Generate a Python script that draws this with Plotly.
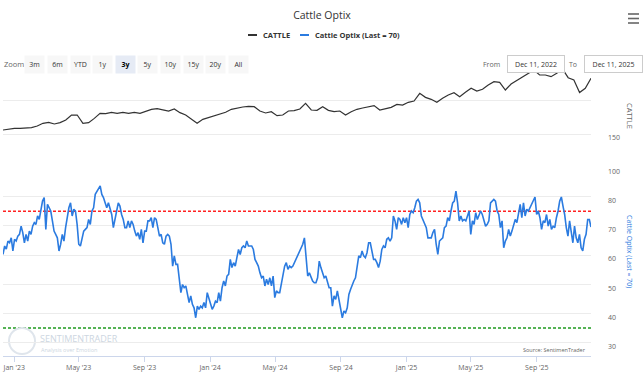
import plotly.graph_objects as go
import pandas as pd

# ---------------- data ----------------
title_text = "Cattle Optix"
cattle_name = "CATTLE"
optix_name = "Cattle Optix (Last = 70)"
start_date = "2022-12-11"
end_date = "2025-12-11"

cattle_values = [
    155.9, 157.4, 158.3, 158.3, 158.3, 159.3, 161.8, 165.7, 167.2, 164.7,
    166.7, 170.6, 177.9, 177.9, 165.7, 166.7, 173.0, 180.4, 179.9, 181.9,
    180.4, 181.9, 180.4, 181.9, 180.4, 182.8, 186.3, 187.3, 185.3, 183.8,
    186.8, 181.4, 177.9, 172.1, 165.7, 171.6, 174.0, 176.5, 178.9, 181.9,
    186.3, 188.2, 189.7, 190.7, 190.2, 183.8, 180.9, 182.8, 177.0, 177.9,
    183.8, 184.3, 186.8, 195.1, 185.3, 184.8, 190.2, 184.8, 182.8, 183.8,
    177.9, 182.8, 186.3, 188.2, 190.2, 191.7, 185.3, 186.8, 189.2, 193.6,
    192.6, 196.6, 198.5, 209.8, 203.9, 201.0, 196.6, 202.5, 207.4, 210.8,
    204.9, 211.3, 217.2, 213.2, 215.7, 222.1, 227.0, 226.0, 214.7, 223.5,
    228.4, 233.3, 238.2, 244.1, 236.8, 236.8, 234.3, 239.2, 245.6, 232.8,
    229.4, 211.0, 217.2, 231.9,
]

optix_values = [
    60.2, 63.1, 62.0, 64.8, 64.2, 65.9, 61.4, 65.4, 64.8, 66.5,
    67.1, 69.9, 67.7, 64.2, 67.1, 64.8, 68.2, 67.1, 69.9, 71.1,
    70.5, 73.4, 72.2, 75.1, 78.5, 79.7, 68.8, 77.4, 76.2, 75.1,
    71.7, 68.2, 67.1, 65.9, 61.4, 63.7, 67.1, 64.8, 69.4, 72.8,
    76.2, 77.9, 73.4, 75.7, 75.1, 70.5, 63.7, 63.1, 65.9, 68.2,
    68.8, 69.4, 72.2, 70.5, 75.1, 76.2, 80.8, 81.9, 82.8, 83.7,
    80.8, 79.7, 77.9, 76.2, 77.9, 75.7, 73.9, 69.4, 72.8, 75.1,
    77.9, 76.8, 73.9, 72.2, 69.4, 69.4, 71.7, 69.4, 71.7, 70.5,
    68.2, 66.5, 67.7, 65.4, 68.8, 64.2, 68.2, 68.2, 71.7, 71.7,
    72.8, 69.4, 72.8, 72.2, 69.4, 66.5, 67.1, 64.2, 63.7, 66.5,
    67.1, 66.5, 63.7, 56.2, 59.7, 56.8, 56.8, 52.8, 47.1, 49.9,
    48.8, 49.4, 46.5, 43.7, 46.0, 43.1, 41.9, 38.5, 42.5, 41.4,
    42.5, 41.9, 43.7, 41.9, 47.1, 45.4, 43.7, 41.4, 42.5, 44.2,
    43.7, 47.1, 44.2, 48.8, 51.1, 49.4, 52.8, 53.4, 58.5, 55.7,
    57.4, 56.2, 59.1, 61.9, 60.2, 62.5, 63.1, 62.5, 64.8, 63.1,
    63.1, 63.1, 61.9, 58.5, 57.4, 56.2, 53.9, 52.2, 52.8, 49.4,
    51.7, 49.9, 52.2, 49.4, 52.8, 45.4, 47.7, 47.1, 47.1, 49.9,
    52.8, 56.2, 57.4, 55.1, 56.2, 55.7, 56.2, 57.4, 58.5,
    60.2, 60.8, 62.5, 63.7, 65.9, 59.1, 52.8, 53.9, 52.2, 51.1,
    50.5, 50.5, 52.2, 57.9, 55.7, 53.9, 52.2, 52.8, 51.1, 48.8,
    48.8, 42.5, 46.0, 44.8, 47.7, 44.8, 41.4, 38.5, 40.8, 40.2,
    41.9, 46.5, 48.2, 50.0, 51.1, 52.2, 56.8, 59.7, 59.1, 61.4,
    59.7, 59.1, 60.8, 64.2, 64.2, 61.4, 58.5, 58.5, 57.4, 55.7,
    57.9, 61.9, 63.1, 62.5, 65.4, 65.9, 64.8, 65.9, 73.4, 71.7,
    68.8, 72.8, 72.2, 70.5, 72.8, 71.1, 72.8, 69.4, 73.9, 75.1,
    74.5, 76.2, 78.5, 79.1, 77.9, 73.4, 72.2, 70.5, 69.4, 65.9,
    65.9, 65.9, 67.7, 68.8, 63.7, 60.2, 64.8, 65.4, 65.9, 69.4,
    69.9, 72.8, 71.7, 75.1, 77.9, 78.5, 81.9, 77.9, 71.7, 73.4,
    71.7, 72.2, 71.7, 73.4, 75.1, 67.1, 71.7, 70.5, 74.5, 72.2,
    73.4, 75.1, 73.9, 71.7, 69.9, 70.5, 71.7, 77.9, 78.7, 79.1,
    78.5, 75.1, 73.9, 69.4, 71.7, 62.5, 64.8, 65.9, 68.8, 66.5,
    68.2, 70.5, 72.2, 71.1, 73.9, 77.4, 72.8, 77.9, 73.4, 75.7,
    75.1, 76.2, 77.4, 78.5, 79.9, 73.9, 75.1, 72.8, 68.8, 71.7,
    71.1, 73.9, 69.9, 72.2, 68.8, 69.9, 69.4, 72.8, 75.1, 78.5,
    79.9, 76.8, 73.9, 69.4, 66.5, 71.7, 67.1, 64.2, 69.9, 65.9,
    64.2, 67.1, 62.5, 61.4, 65.4, 67.1, 72.2, 72.2, 69.6,
]

upper_level = 75
lower_level = 35

cattle_tickvals = [100, 150, 200]
cattle_ticktext = ["100", "150", ""]
optix_tickvals = [30, 40, 50, 60, 70, 80]

x_tick_dates = ["2023-01-01", "2023-05-01", "2023-09-01", "2024-01-01", "2024-05-01",
                "2024-09-01", "2025-01-01", "2025-05-01", "2025-09-01"]
x_tick_labels = ["Jan '23", "May '23", "Sep '23", "Jan '24", "May '24",
                 "Sep '24", "Jan '25", "May '25", "Sep '25"]

zoom_buttons = ["3m", "6m", "YTD", "1y", "3y", "5y", "10y", "15y", "20y", "All"]
selected_button = "3y"
from_text = "Dec 11, 2022"
to_text = "Dec 11, 2025"
source_text = "Source: SentimenTrader"

cattle_dates = pd.date_range(start_date, end_date, periods=len(cattle_values))
optix_dates = pd.date_range(start_date, end_date, periods=len(optix_values))

# ---------------- layout geometry ----------------
W, H = 644, 374
ML, MR, MT, MB = 3, 53, 68, 18
PW, PH = W - ML - MR, H - MT - MB


def fx(px):
    return (px - ML) / PW


def fy(py):
    return (H - MB - py) / PH


FONT = "Open Sans"
BLUE = "#2b7be0"
DARK = "#333333"
GRAY = "#666666"

fig = go.Figure()
fig.add_trace(go.Scatter(x=cattle_dates, y=cattle_values, name=cattle_name, mode="lines",
                         line=dict(color=DARK, width=1.2), xaxis="x", yaxis="y"))
fig.add_trace(go.Scatter(x=optix_dates, y=optix_values, name=optix_name, mode="lines",
                         line=dict(color=BLUE, width=1.6), xaxis="x", yaxis="y2"))

shapes = []
# reference levels
shapes.append(dict(type="line", xref="paper", x0=0, x1=1, yref="y2", y0=upper_level, y1=upper_level,
                   line=dict(color="#ff2222", width=1.4, dash="3px,2px"), layer="below"))
shapes.append(dict(type="line", xref="paper", x0=0, x1=1, yref="y2", y0=lower_level, y1=lower_level,
                   line=dict(color="#1f9a1f", width=1.4, dash="3px,2px"), layer="below"))
# legend symbols
shapes.append(dict(type="line", xref="paper", yref="paper", x0=fx(248), x1=fx(257), y0=fy(35), y1=fy(35),
                   line=dict(color=DARK, width=2)))
shapes.append(dict(type="line", xref="paper", yref="paper", x0=fx(300), x1=fx(309), y0=fy(35), y1=fy(35),
                   line=dict(color=BLUE, width=2)))
# hamburger menu
for yy in (14, 18.5, 23):
    shapes.append(dict(type="line", xref="paper", yref="paper", x0=fx(628), x1=fx(639), y0=fy(yy), y1=fy(yy),
                       line=dict(color=GRAY, width=1.6)))
# watermark circle
shapes.append(dict(type="circle", xref="paper", yref="paper", x0=fx(9), x1=fx(35), y0=fy(328), y1=fy(354),
                   line=dict(color="#dfe5ec", width=2), layer="below"))

ann = []
# legend labels
ann.append(dict(text="<b>" + cattle_name + "</b>", x=fx(261), y=fy(35), xanchor="left", yanchor="middle",
                font=dict(size=7.5, color=DARK, family=FONT)))
ann.append(dict(text="<b>" + optix_name + "</b>", x=fx(313), y=fy(35), xanchor="left", yanchor="middle",
                font=dict(size=7.5, color=DARK, family=FONT)))
# zoom buttons
ann.append(dict(text="Zoom", x=fx(2), y=fy(64), xanchor="left", yanchor="middle",
                font=dict(size=7.5, color=GRAY, family=FONT)))
for i, b in enumerate(zoom_buttons):
    cx = 34.8 + 22.6 * i
    sel = b == selected_button
    ann.append(dict(text=("<b>" + b + "</b>") if sel else b, x=fx(cx), y=fy(64), xanchor="center",
                    yanchor="middle", width=19, height=17, borderpad=0,
                    bgcolor="#e6ebf5" if sel else "#f7f7f7",
                    font=dict(size=7, color="#000000" if sel else DARK, family=FONT)))
# from / to
ann.append(dict(text="From", x=fx(502), y=fy(64), xanchor="right", yanchor="middle",
                font=dict(size=7, color=GRAY, family=FONT)))
ann.append(dict(text=from_text, x=fx(536), y=fy(64), xanchor="center", yanchor="middle", width=56, height=16,
                borderpad=0, bgcolor="white", bordercolor="#cccccc", borderwidth=1,
                font=dict(size=7, color=DARK, family=FONT)))
ann.append(dict(text="To", x=fx(579), y=fy(64), xanchor="right", yanchor="middle",
                font=dict(size=7, color=GRAY, family=FONT)))
ann.append(dict(text=to_text, x=fx(613.5), y=fy(64), xanchor="center", yanchor="middle", width=57, height=16,
                borderpad=0, bgcolor="white", bordercolor="#cccccc", borderwidth=1,
                font=dict(size=7, color=DARK, family=FONT)))
# axis titles (rotated like the original)
ann.append(dict(text=cattle_name, x=fx(630), y=fy(116), xanchor="center", yanchor="middle", textangle=90,
                font=dict(size=7.5, color=GRAY, family=FONT)))
ann.append(dict(text=optix_name, x=fx(630), y=fy(251), xanchor="center", yanchor="middle", textangle=90,
                font=dict(size=7, color=BLUE, family=FONT)))
# watermark text
ann.append(dict(text="SENTIMENTRADER", x=fx(38), y=fy(338.5), xanchor="left", yanchor="middle",
                font=dict(size=9, color="#cdd6e1", family=FONT)))
ann.append(dict(text="Analysis over Emotion", x=fx(39), y=fy(349.5), xanchor="left", yanchor="middle",
                font=dict(size=5.5, color="#cdd6e1", family=FONT)))
# source
ann.append(dict(text=source_text, x=fx(588), y=fy(350), xanchor="right", yanchor="middle",
                font=dict(size=5.5, color=GRAY, family=FONT)))
for a in ann:
    a.setdefault("xref", "paper")
    a.setdefault("yref", "paper")
    a.setdefault("showarrow", False)

# axis ranges that place the panes like the original
cattle_range = [100, 247.06]
optix_range = [25.39, 87.44]

fig.update_layout(
    width=W, height=H,
    margin=dict(l=ML, r=MR, t=MT, b=MB, pad=0),
    paper_bgcolor="white", plot_bgcolor="white",
    showlegend=False,
    title=dict(text=title_text, x=0.5, xref="container", xanchor="center", y=1 - 15.5 / H, yref="container",
               yanchor="middle", font=dict(size=10.5, color=DARK, family=FONT)),
    font=dict(family=FONT, color=GRAY),
    xaxis=dict(type="date", range=[start_date, end_date], anchor="y2", domain=[0, 1],
               tickvals=x_tick_dates, ticktext=x_tick_labels, ticks="outside", ticklen=5,
               tickcolor="#ccd6eb", showline=True, linecolor="#ccd6eb", linewidth=1,
               showgrid=False, zeroline=False, tickfont=dict(size=7, color=GRAY, family=FONT)),
    yaxis=dict(domain=[fy(168), 1], range=cattle_range, side="right", anchor="x",
               tickvals=cattle_tickvals, ticktext=cattle_ticktext, showgrid=True, gridcolor="#ececec",
               gridwidth=1, zeroline=False, showline=False, ticks="", ticklabelstandoff=16,
               ticklabelshift=4, tickfont=dict(size=7, color=GRAY, family=FONT)),
    yaxis2=dict(domain=[0, fy(175)], range=optix_range, side="right", anchor="x",
                tickvals=optix_tickvals, showgrid=True, gridcolor="#ececec", gridwidth=1,
                zeroline=False, showline=False, ticks="", ticklabelstandoff=16, ticklabelshift=4,
                tickfont=dict(size=7, color=GRAY, family=FONT)),
    shapes=shapes,
    annotations=ann,
)

fig.write_html("out.html", config={"displayModeBar": False},
               post_script="document.body.style.margin='0';document.body.style.overflow='hidden';")
